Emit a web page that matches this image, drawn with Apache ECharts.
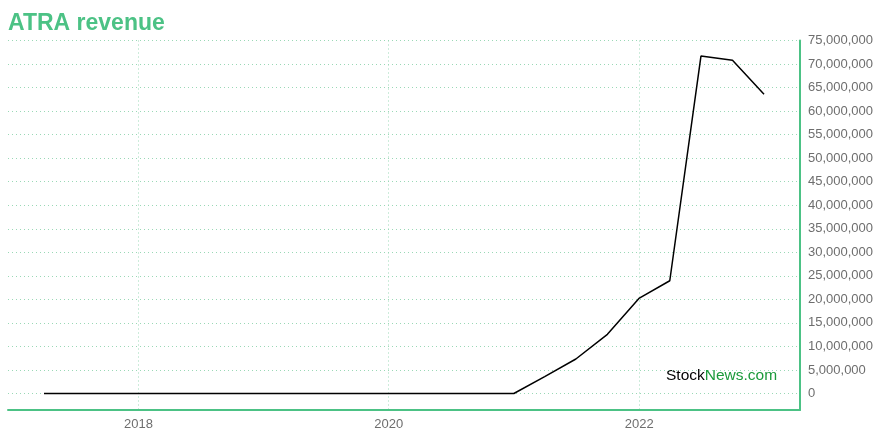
<!DOCTYPE html>
<html><head><meta charset="utf-8">
<script src="https://cdn.jsdelivr.net/npm/echarts@6/dist/echarts.min.js"></script>
<style>html,body{margin:0;padding:0;background:#fff}#c{width:880px;height:440px}</style>
</head><body><div id="c"></div>
<script>
const dates = ['2017-03-31','2017-06-30','2017-09-30','2017-12-31','2018-03-31','2018-06-30','2018-09-30','2018-12-31','2019-03-31','2019-06-30','2019-09-30','2019-12-31','2020-03-31','2020-06-30','2020-09-30','2020-12-31','2021-03-31','2021-06-30','2021-09-30','2021-12-31','2022-03-31','2022-06-30','2022-09-30','2022-12-31'];
const revenue = [0,0,0,0,0,0,0,0,0,0,0,0,0,0,0,0,3600000,7330000,12580000,20200000,23960000,71700000,70800000,63600000];
const yTicks = [0,5000000,10000000,15000000,20000000,25000000,30000000,35000000,40000000,45000000,50000000,55000000,60000000,65000000,70000000,75000000];
const xTicks = ['2018-01-01','2020-01-01','2022-01-01'];

const green = '#4cc285';
const gridColor = '#9ad8b6';
const font = 'Liberation Sans, Arial, sans-serif';
const ts = d => +new Date(d + 'T00:00:00Z');
const chart = echarts.init(document.getElementById('c'), null, {renderer:'canvas'});
const xTickVals = xTicks.map(ts);
chart.setOption({
  animation: false,
  title: { text: 'ATRA revenue', left: 3, top: 7, textStyle: { color: green, fontSize: 23, fontWeight: 'bold', fontFamily: font } },
  grid: { left: 8, right: 80, top: 40.5, bottom: 30, containLabel: false },
  xAxis: {
    type: 'value',
    min: ts('2016-12-16'),
    max: ts('2023-04-15'),
    axisLine: { show: true, onZero: false, lineStyle: { color: green, width: 2 } },
    axisTick: { show: false, customValues: xTickVals },
    axisLabel: { customValues: xTickVals, color: '#6e6e6e', fontSize: 13, fontFamily: font, margin: 8,
      formatter: v => String(new Date(v).getUTCFullYear()) },
    splitLine: { show: true, lineStyle: { color: gridColor, type: [1, 3], width: 1 } }
  },
  yAxis: {
    type: 'value', position: 'right',
    min: -3500000, max: 75000000,
    axisLine: { show: true, onZero: false, lineStyle: { color: green, width: 2 } },
    axisTick: { show: false, customValues: yTicks },
    axisLabel: { customValues: yTicks, color: '#6e6e6e', fontSize: 13, fontFamily: font, margin: 8,
      formatter: v => v.toLocaleString('en-US') },
    splitLine: { show: true, lineStyle: { color: gridColor, type: [1, 3], width: 1 } }
  },
  graphic: [{
    type: 'text', left: 666, top: 368,
    style: { text: '{a|Stock}{b|News.com}', rich: { a: { fill: '#000', fontSize: 15.5, fontFamily: font }, b: { fill: '#1a9a3a', fontSize: 15.5, fontFamily: font } } }
  }],
  series: [{
    type: 'line', showSymbol: false, symbol: 'none',
    data: dates.map((d, i) => [ts(d), revenue[i]]),
    lineStyle: { color: '#000', width: 1.5 }
  }]
});
</script></body></html>
